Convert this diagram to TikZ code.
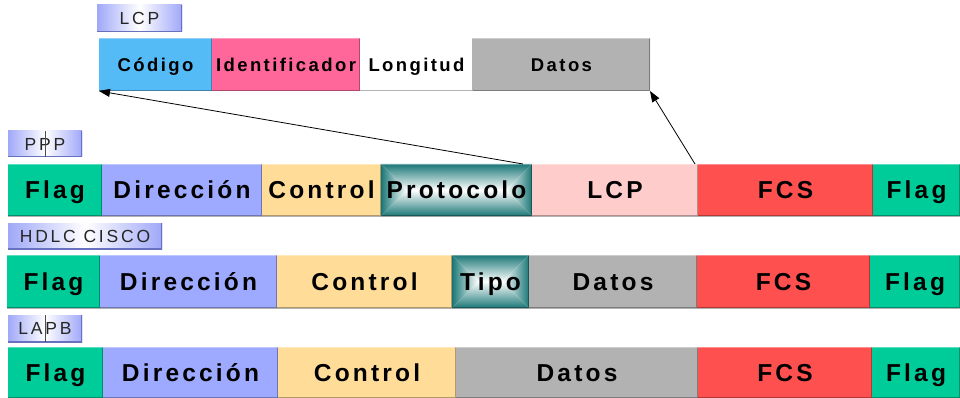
\documentclass[tikz,border=0pt]{standalone}
\usepackage{fontspec}
\setmainfont{Liberation Sans}
\newfontfamily\fieldfont{Liberation Sans}[LetterSpace=13]
\newfontfamily\labfont{Liberation Sans}[LetterSpace=16]
\usetikzlibrary{arrows.meta,calc}
\definecolor{flagc}{HTML}{00CC99}
\definecolor{dirc}{HTML}{9DAAFF}
\definecolor{ctrlc}{HTML}{FFDD99}
\definecolor{lcpc}{HTML}{FFCCCC}
\definecolor{fcsc}{HTML}{FF5050}
\definecolor{datc}{HTML}{B2B2B2}
\definecolor{codc}{HTML}{55BBF7}
\definecolor{idc}{HTML}{FF6699}
\definecolor{tealc}{HTML}{1B7777}
\definecolor{labc}{HTML}{A0A8F8}
\definecolor{labd}{HTML}{6870C0}
\tikzset{
  fld/.style={anchor=north west, inner sep=0pt, outer sep=0pt, text=black,
    font=\fieldfont\bfseries\fontsize{24.5}{27}\selectfont,
    text height=17.5pt, text depth=0pt,
    path picture={
      \draw[black,opacity=0.3,line width=2.4pt]
        (path picture bounding box.south west) -- (path picture bounding box.south east)
        -- (path picture bounding box.north east);
      \draw[white,opacity=0.35,line width=2.4pt]
        (path picture bounding box.north west) -- (path picture bounding box.north east);}},
  small/.style={font=\fieldfont\bfseries\fontsize{18.5}{21}\selectfont,
    text height=13.2pt, text depth=0pt},
  lab/.style={anchor=north west, inner sep=0pt, outer sep=0pt, text=black!85,
    font=\labfont\fontsize{17.5}{19}\selectfont,
    text height=12.5pt, text depth=0pt,
    left color=labc, right color=labc, middle color=white,
    path picture={
      \draw[labd,line width=2.4pt]
        (path picture bounding box.south west) -- (path picture bounding box.south east)
        -- (path picture bounding box.north east);}},
  conn/.style={-{Triangle[length=11pt,width=8pt]}, line width=0.8pt, black},
  artifact/.style={black!70, line width=0.6pt}
}
% field node: name, x1, x2, y1, y2, style, text
\newcommand\fld[7]{\node[fld,#6,minimum width={(#3-#2)*1pt},minimum height={(#5-#4)*1pt}] (#1) at (#2,#4) {#7};}
\newcommand\labl[6]{\node[lab,minimum width={(#3-#2)*1pt},minimum height={(#5-#4)*1pt}] (#1) at (#2,#4) {#6};}
% rectangular gradient (teal edges to white ridge)
\newcommand\pyr[4]{%
  \pgfmathsetmacro\hh{(#4-#2)/2}\pgfmathsetmacro\ym{(#2+#4)/2}%
  \shade[top color=tealc, middle color=tealc!20!white, bottom color=white] (#1,#2) -- (#3,#2) -- ({#3-\hh},\ym) -- ({#1+\hh},\ym) -- cycle;
  \shade[bottom color=tealc, middle color=tealc!20!white, top color=white] (#1,#4) -- (#3,#4) -- ({#3-\hh},\ym) -- ({#1+\hh},\ym) -- cycle;
  \shade[left color=tealc, middle color=tealc!20!white, right color=white] (#1,#2) -- (#1,#4) -- ({#1+\hh},\ym) -- cycle;
  \shade[right color=tealc, middle color=tealc!20!white, left color=white] (#3,#2) -- (#3,#4) -- ({#3-\hh},\ym) -- cycle;}
\begin{document}
\begin{tikzpicture}[x=1pt,y=-1pt]
\useasboundingbox (0,0) rectangle (960,398);
\fill[white] (0,0) rectangle (960,398);

% LCP
\labl{llcp}{97}{182}{5}{32}{LCP}
\fld{c1}{99}{212}{38}{91}{fill=codc,small}{Código}
\fld{c2}{212}{360}{38}{91}{fill=idc,small}{Identificador}
\fld{c3}{360}{473}{38}{91}{fill=white,small}{Longitud}
\fld{c4}{473}{650}{38}{91}{fill=datc,small}{Datos}

% PPP
\labl{lppp}{8}{82}{131}{157}{PPP}
\draw[artifact] ($(lppp.north west)+(37,0)$) -- ($(lppp.south west)+(37,0)$);
\pyr{381}{164}{532}{216}
\fld{p1}{8}{102}{164}{216}{fill=flagc}{Flag}
\fld{p2}{102}{262}{164}{216}{fill=dirc}{Dirección}
\fld{p3}{262}{381}{164}{216}{fill=ctrlc}{Control}
\fld{proto}{381}{532}{164}{216}{}{Protocolo}
\fld{lcpf}{532}{698}{164}{216}{fill=lcpc}{LCP}
\fld{p6}{698}{873}{164}{216}{fill=fcsc}{FCS}
\fld{p7}{873}{960}{164}{216}{fill=flagc}{Flag}

% HDLC CISCO
\labl{lhdlc}{8}{162}{223}{249}{HDLC CISCO}
\pyr{452}{255}{529}{308}
\fld{h1}{7}{100}{255}{308}{fill=flagc}{Flag}
\fld{h2}{100}{277}{255}{308}{fill=dirc}{Dirección}
\fld{h3}{277}{452}{255}{308}{fill=ctrlc}{Control}
\fld{h4}{452}{529}{255}{308}{}{Tipo}
\fld{h5}{529}{697}{255}{308}{fill=datc}{Datos}
\fld{h6}{697}{870}{255}{308}{fill=fcsc}{FCS}
\fld{h7}{870}{960}{255}{308}{fill=flagc}{Flag}

% LAPB
\labl{llapb}{8}{82}{315}{342}{LAPB}
\draw[artifact] ($(llapb.north west)+(37,0)$) -- ($(llapb.south west)+(37,0)$);
\fld{a1}{8}{103}{347}{398}{fill=flagc}{Flag}
\fld{a2}{103}{278}{347}{398}{fill=dirc}{Dirección}
\fld{a3}{278}{456}{347}{398}{fill=ctrlc}{Control}
\fld{a4}{456}{698}{347}{398}{fill=datc}{Datos}
\fld{a5}{698}{872}{347}{398}{fill=fcsc}{FCS}
\fld{a6}{872}{960}{347}{398}{fill=flagc}{Flag}

% connectors
\draw[conn] ($(proto.north east)+(-9,0)$) -- (c1.south west);
\draw[conn] ($(lcpf.north east)+(-3,0)$) -- (c4.south east);
\end{tikzpicture}
\end{document}
